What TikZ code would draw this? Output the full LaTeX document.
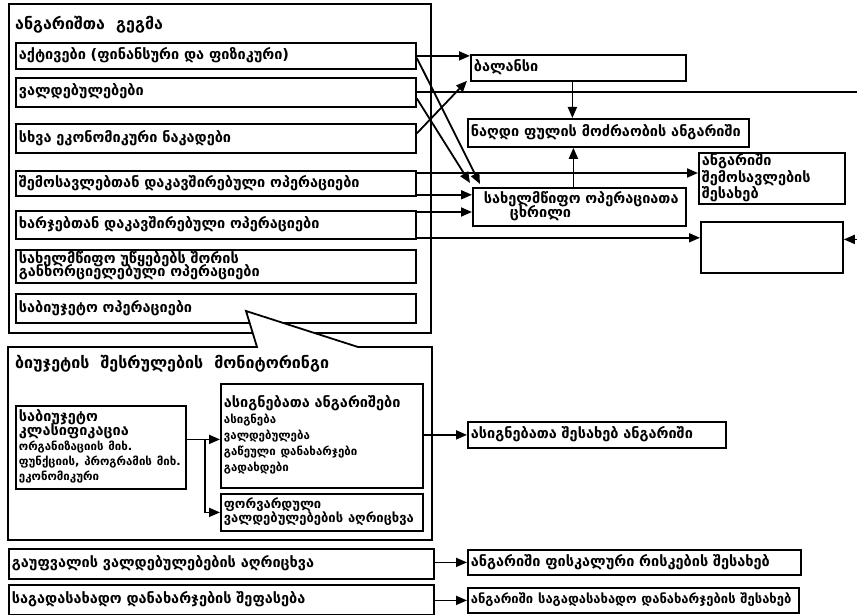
\documentclass[tikz,border=0pt]{standalone}
\usepackage{fontspec}
\setmainfont{DejaVu Sans}[WordSpace=2.0]
\usetikzlibrary{arrows.meta,calc}

% secondary text sizes inside boxes
\newcommand\sm{\fontsize{11.5}{13}\selectfont}
\newcommand\md{\fontsize{13}{14.5}\selectfont}
\newcommand\nr{\fontsize{13}{15}\selectfont}

% \bx[options]{name}{x1}{y1}{x2}{y2}{lines}: framed box with left-set text
\newcommand\bx[7][]{%
  \pgfmathsetmacro\bxW{#5-#3}%
  \pgfmathsetmacro\bxH{#6-#4}%
  \pgfmathsetmacro\bxT{#5-#3-6}%
  \node[bx, minimum width=\bxW pt, minimum height=\bxH pt, text width=\bxT pt, #1]
    (#2) at (#3,#4) {\begin{tabular}{@{}l@{}}#7\end{tabular}};}

\begin{document}
\begin{tikzpicture}[x=1pt,y=-1pt,
  bx/.style={draw, line width=1.8pt, fill=white, inner xsep=3pt, inner ysep=1pt,
    anchor=north west, font=\bfseries\fontsize{14.5}{16}\selectfont},
  ttl/.style={inner sep=0pt, anchor=west, font=\bfseries\fontsize{16}{18}\selectfont},
  ln/.style={line width=1.8pt},
  arr/.style={line width=1.8pt, -{Triangle[length=11pt,width=9pt]}}]
\useasboundingbox (0,0) rectangle (857,615);

% chart of accounts
\bx{plan}{8}{3}{430}{332}{}
\node[ttl] (plantitle) at (15,25) {ანგარიშთა გეგმა};
\bx{akt}{15}{42}{415}{68}{აქტივები (ფინანსური და ფიზიკური)}
\bx{vb}{15}{77}{415}{106}{ვალდებულებები}
\bx{sxva}{15}{123}{415}{152}{სხვა ეკონომიკური ნაკადები}
\bx{shem}{15}{170}{415}{195}{შემოსავლებთან დაკავშირებული ოპერაციები}
\bx{xarj}{15}{210}{415}{238}{ხარჯებთან დაკავშირებული ოპერაციები}
\bx{saxu}{15}{249}{415}{282}{სახელმწიფო უწყებებს შორის\\[-3.5pt]განხორციელებული ოპერაციები}
\bx{sabiu}{15}{293}{415}{322}{საბიუჯეტო ოპერაციები}

% reports
\bx{bal}{470}{54}{685}{80}{ბალანსი}
\bx{cash}{467}{118}{748}{146}{ნაღდი ფულის მოძრაობის ანგარიში}
\bx{shemrep}{698}{152}{844}{203}{ანგარიში\\[-0.5pt]შემოსავლების\\[-0.5pt]შესახებ}
\bx{ops}{472}{187}{685}{225}{\hspace*{8pt}სახელმწიფო ოპერაციათა\\[-2pt]\hspace*{34pt}ცხრილი}
\bx{empty}{700}{221}{842}{272}{}

% flows from the chart of accounts
\draw[arr] (akt.east) -- (akt.east -| bal.west);
\coordinate (a1) at ([yshift=-2pt]akt.east);
\coordinate (a2) at ([xshift=8pt,yshift=3pt]ops.north west);
\draw[arr] (a1) -- (a2);
\coordinate (v1) at ([yshift=-6pt]vb.east);
\coordinate (v2) at ([xshift=-2pt,yshift=4pt]ops.north west);
\draw[arr] (v1) -- (v2);
\coordinate (x0) at ([yshift=5pt]sxva.east);
\coordinate (b0) at ([xshift=-3pt,yshift=1pt]bal.south west);
\draw[arr] (x0) -- (b0);
\coordinate (rt) at (870,0);
\coordinate (e1) at ([yshift=8pt]empty.east);
\draw[arr] (vb.east) -- (vb.east -| rt) |- (e1);
\coordinate (s1) at ([yshift=-3pt]shem.north east);
\draw[arr] (s1) -- (s1 -| shemrep.west);
\coordinate (s2) at ([yshift=2pt]shem.south east);
\draw[arr] (s2) -- (s2 -| ops.west);
\coordinate (h1) at ([yshift=-2pt]xarj.north east);
\draw[arr] (h1) -- (h1 -| ops.west);
\coordinate (h2) at ([yshift=2pt]xarj.south east);
\draw[arr] (h2) -- (h2 -| empty.west);
\coordinate (bs) at ([xshift=-6pt]bal.south);
\draw[arr] (bs) -- (bs |- cash.north);
\coordinate (os) at ([xshift=-6pt]ops.north);
\draw[arr] (os) -- (os |- cash.south);

% budget execution monitoring, with its pointer to the budget operations
\draw[ln, fill=white] (8,347) -- (257,347) -- (246,311) -- (358,347) -- (432,347)
  -- (432,540) -- (8,540) -- cycle;
\node[ttl] (montitle) at (15,364) {ბიუჯეტის შესრულების მონიტორინგი};
\bx{cls}{15}{405}{185}{488}{საბიუჯეტო\\[-2pt]კლასიფიკაცია\\[-1pt]{\sm ორგანიზაციის მიხ.}\\[-1pt]{\sm ფუნქციის, პროგრამის მიხ.}\\[-1pt]{\sm ეკონომიკური}}
\bx{asig}{220}{383}{422}{487}{ასიგნებათა ანგარიშები\\[0pt]{\sm ასიგნება}\\[0pt]{\sm ვალდებულება}\\[0pt]{\sm გაწეული დანახარჯები}\\[0pt]{\sm გადახდები}}
\bx{fwd}{220}{493}{422}{530}{\md ფორვარდული\\[-1.5pt]\md ვალდებულებების აღრიცხვა}
\bx{asigrep}{467}{421}{725}{447}{ასიგნებათა შესახებ ანგარიში}

\coordinate (c1) at ([yshift=8pt]cls.east);
\draw[arr] (c1) -- (c1 -| asig.west);
\coordinate (c2) at ([xshift=18pt]c1);
\draw[arr] (c2) |- (fwd.west);
\draw[arr] (asig.east |- asigrep.west) -- (asigrep.west);

% fiscal risks and tax expenditures
\bx{cont}{8}{548}{433}{578}{გაუფვალის ვალდებულებების აღრიცხვა}
\bx{fisc}{467}{549}{800}{574}{ანგარიში ფისკალური რისკების შესახებ}
\bx{tax}{8}{584}{433}{614}{საგადასახადო დანახარჯების შეფასება}
\bx{taxrep}{467}{587}{798}{612}{\nr ანგარიში საგადასახადო დანახარჯების შესახებ}
\draw[arr] (cont.east |- fisc.west) -- (fisc.west);
\draw[arr] (tax.east |- taxrep.west) -- (taxrep.west);
\end{tikzpicture}
\end{document}
